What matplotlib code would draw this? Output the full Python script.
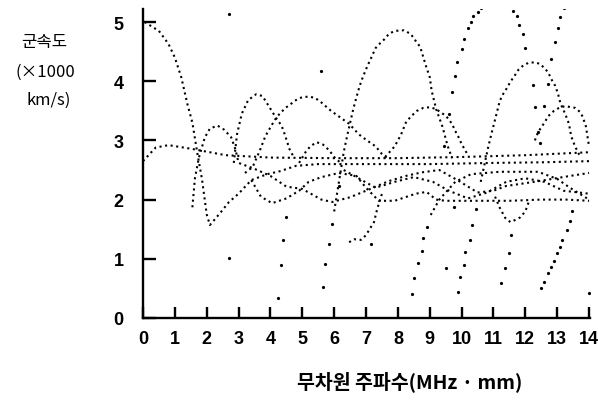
import matplotlib
matplotlib.use("Agg")
import matplotlib.pyplot as plt

# 분산 곡선 (군속도) - 점선으로 그린 모드들, 그림에서 읽은 값

# 평평한 기본 모드
flat_x = [0, 0.4, 0.8, 1.5, 2.1, 2.6, 3.3, 4, 6, 8, 10, 12, 14]
flat_y = [2.65, 2.88, 2.92, 2.86, 2.8, 2.75, 2.73, 2.71, 2.7, 2.7, 2.72, 2.75, 2.8]

# 5 에서 시작하는 모드
a_x = [0.05, 0.5, 0.8, 1.0, 1.2, 1.4, 1.55, 1.7, 1.85, 2.0, 2.1, 2.4, 2.7, 3.0, 3.4,
       3.9, 4.3, 4.8, 5.5, 7, 9, 11, 12.5, 14]
a_y = [5.0, 4.85, 4.63, 4.4, 4.07, 3.6, 3.3, 2.8, 2.35, 1.75, 1.57, 1.76, 1.96, 2.1, 2.33,
       2.43, 2.48, 2.57, 2.6, 2.6, 2.6, 2.62, 2.63, 2.65]

# 3.2 근처 봉우리 모드
b_x = [1.55, 1.63, 1.75, 1.94, 2.1, 2.34, 2.55, 2.77, 2.9, 3.0, 3.5, 4.0, 4.5, 5.0, 5.6,
       5.94, 6.5, 7.0, 7.7, 8.25, 8.75, 9.3, 9.9, 10.5, 11.0, 11.4, 12.4, 13.4, 14]
b_y = [1.87, 2.36, 2.7, 3.05, 3.2, 3.25, 3.18, 3.05, 2.85, 2.62, 2.52, 2.4, 2.22, 2.18, 2.0,
       1.96, 2.04, 2.15, 2.31, 2.4, 2.46, 2.5, 2.32, 2.12, 2.15, 2.23, 2.31, 2.4, 2.45]

# 띠 안의 물결 모드
c_x = [3.4, 3.7, 4.05, 4.5, 4.9, 5.2, 5.6, 6.15, 6.7, 7.0, 7.4, 7.9, 8.56, 8.9, 9.2, 9.5,
       10.5, 11.5, 12.5, 13.3, 14]
c_y = [2.33, 2.05, 1.94, 2.02, 2.15, 2.3, 2.38, 2.45, 2.4, 2.2, 1.98, 1.98, 2.1, 2.13, 2.0, 1.98,
       1.98, 1.98, 2.0, 2.0, 1.98]

d_x = [9.03, 9.3, 9.8, 10.3, 11.2, 12.4, 13.0, 13.4, 14]
d_y = [1.74, 2.0, 2.3, 2.43, 2.47, 2.47, 2.35, 2.2, 2.0]

e_x = [6.3, 6.8, 7.3, 7.9, 8.5, 9.1, 9.6, 10.2, 10.8, 11.4, 12.0, 12.6, 13.2, 14]
e_y = [2.5, 2.35, 2.2, 2.3, 2.38, 2.3, 2.15, 2.02, 2.12, 2.3, 2.36, 2.3, 2.15, 2.1]

# 봉우리들
h1_x = [2.85, 2.95, 3.1, 3.3, 3.55, 3.75, 3.97, 4.2, 4.35, 4.45, 4.6, 4.75]
h1_y = [2.62, 3.1, 3.45, 3.68, 3.78, 3.75, 3.56, 3.36, 3.25, 3.1, 2.85, 2.7]

h2_x = [4.9, 5.1, 5.25, 5.45, 5.65, 5.85, 6.0, 6.2]
h2_y = [2.62, 2.8, 2.9, 2.97, 2.93, 2.83, 2.72, 2.62]

h3_x = [3.2, 3.44, 3.66, 3.84, 4.03, 4.19, 4.34, 4.5, 4.7, 4.85, 5.0, 5.2, 5.4, 5.6, 5.9,
        6.16, 6.47, 6.78, 7.03, 7.3, 7.5, 7.65]
h3_y = [2.45, 2.55, 2.82, 3.07, 3.25, 3.39, 3.48, 3.56, 3.64, 3.7, 3.73, 3.74, 3.72, 3.64, 3.5,
        3.4, 3.28, 3.1, 3.0, 2.9, 2.77, 2.7]

h4_x = [6.0, 6.3, 6.4, 6.6, 6.7, 6.8, 6.9, 7.03, 7.2, 7.3, 7.44, 7.56, 7.72, 7.9, 8.19, 8.4,
        8.56, 8.7, 8.88, 9.0, 9.06, 9.2, 9.4, 9.56, 9.7]
h4_y = [1.8, 2.8, 3.06, 3.53, 3.73, 3.92, 4.07, 4.24, 4.44, 4.56, 4.64, 4.7, 4.8, 4.85, 4.86, 4.8,
        4.68, 4.58, 4.26, 4.07, 3.84, 3.53, 3.23, 2.91, 2.7]

h5_x = [7.6, 7.9, 8.1, 8.25, 8.4, 8.6, 8.8, 9.0, 9.2, 9.35, 9.5, 9.7, 9.8, 9.9, 10.0, 10.2]
h5_y = [2.72, 2.9, 3.1, 3.3, 3.4, 3.5, 3.55, 3.56, 3.53, 3.47, 3.42, 3.28, 3.16, 3.06, 2.94, 2.75]

h6_x = [10.6, 10.84, 10.95, 11.12, 11.2, 11.3, 11.44, 11.53, 11.66, 11.78, 11.94, 12.1, 12.3,
        12.47, 12.6, 12.72, 12.8, 12.94, 13.03, 13.1, 13.25, 13.37, 13.44, 13.56, 13.7]
h6_y = [2.3, 2.9, 3.14, 3.5, 3.67, 3.78, 3.9, 3.99, 4.09, 4.19, 4.27, 4.31, 4.32,
        4.29, 4.22, 4.15, 4.05, 3.92, 3.78, 3.63, 3.45, 3.28, 3.07, 2.9, 2.75]

h7_x = [12.3, 12.4, 12.6, 12.72, 12.9, 13.06, 13.25, 13.44, 13.56, 13.72, 13.8, 13.9, 13.95, 14]
h7_y = [3.0, 3.14, 3.3, 3.41, 3.5, 3.55, 3.58, 3.56, 3.55, 3.48, 3.4, 3.24, 3.07, 2.9]

# 아래로 오목한 부분
dip1_x = [6.47, 6.63, 6.84, 7.0, 7.1, 7.25, 7.35, 7.5]
dip1_y = [1.28, 1.33, 1.32, 1.4, 1.49, 1.62, 1.84, 2.1]
dip2_x = [11.05, 11.2, 11.37, 11.53, 11.7, 11.84, 12.0, 12.1]
dip2_y = [2.05, 1.86, 1.69, 1.62, 1.66, 1.7, 1.8, 1.95]

# 드문드문 찍힌 점들 (차단 주파수 근처의 가파른 부분)
sparse_x = [4.25, 4.34, 4.38, 4.5,
            5.66, 5.7, 5.84, 5.94,
            8.44, 8.5, 8.63, 8.75, 8.78, 8.9,
            9.88, 9.94, 10.06, 10.1, 10.25, 10.34, 10.44,
            11.25, 11.37, 11.5, 11.56,
            12.5, 12.6, 12.7, 12.8, 12.9, 13.0, 13.1, 13.15, 13.3, 13.4, 13.47,
            9.45, 9.6, 9.7, 9.8, 9.85, 10.0, 10.06, 10.2, 10.3, 10.37, 10.5, 10.6,
            11.6, 11.75, 11.8, 11.94, 12.0, 12.25, 12.3, 12.4, 12.45,
            12.6, 12.7, 12.8, 12.94, 13.03, 13.1, 13.2,
            2.7, 2.7, 5.6, 9.5, 14.0, 9.75, 7.16, 6.15]
sparse_y = [0.34, 0.9, 1.32, 1.7,
            0.53, 0.91, 1.25, 1.59,
            0.4, 0.68, 0.93, 1.13, 1.35, 1.53,
            0.44, 0.69, 0.9, 1.11, 1.32, 1.57, 1.84,
            0.59, 0.84, 1.1, 1.4,
            0.5, 0.6, 0.76, 0.87, 0.97, 1.1, 1.2, 1.32, 1.49, 1.64, 1.8,
            2.9, 3.45, 3.82, 4.08, 4.33, 4.54, 4.72, 4.9, 5.0, 5.1, 5.17, 5.24,
            5.19, 5.1, 4.95, 4.8, 4.56, 3.94, 3.57, 3.14, 2.95,
            3.58, 3.95, 4.37, 4.67, 4.9, 5.08, 5.24,
            5.13, 1.01, 4.17, 0.84, 0.42, 1.87, 1.25, 2.23]

x_ticks = list(range(0, 15))
y_ticks = [0, 1, 2, 3, 4, 5]

fig = plt.figure(figsize=(5.98, 4.14), dpi=100)
ax = fig.add_axes([143/598, 95/414, 447/598, 309/414])

curves = [(flat_x, flat_y), (a_x, a_y), (b_x, b_y), (c_x, c_y), (d_x, d_y), (e_x, e_y),
          (h1_x, h1_y), (h2_x, h2_y), (h3_x, h3_y), (h4_x, h4_y), (h5_x, h5_y),
          (h6_x, h6_y), (h7_x, h7_y), (dip1_x, dip1_y), (dip2_x, dip2_y)]
for cx, cy in curves:
    ax.plot(cx, cy, color='black', lw=1.5, linestyle=(0, (1, 1.7)))

ax.plot(sparse_x, sparse_y, 'o', color='black', ms=2.3, mew=0)

ax.set_xlim(0, 14.03)
ax.set_ylim(0, 5.22)
ax.set_xticks(x_ticks)
ax.set_yticks(y_ticks)
ax.set_xticklabels([str(t) for t in x_ticks])
ax.set_yticklabels([str(t) for t in y_ticks])

for s in ['top', 'right']:
    ax.spines[s].set_visible(False)
for s in ['left', 'bottom']:
    ax.spines[s].set_linewidth(1.7)

ax.tick_params(axis='y', direction='in', length=9, width=1.7, pad=14, labelsize=13)
ax.tick_params(axis='x', direction='in', length=8, width=1.7, pad=9, labelsize=13)
for lab in ax.get_xticklabels() + ax.get_yticklabels():
    lab.set_fontfamily('Liberation Sans')
    lab.set_fontweight('bold')

kr = ['Noto Sans CJK KR', 'DejaVu Sans']
fig.text(44/598, 1 - 43/414, '군속도', family=kr, fontsize=12, ha='center', va='center',
         weight='medium')
fig.text(45/598, 1 - 72/414, '(×1000', family=kr, fontsize=12, ha='center', va='center',
         weight='medium')
fig.text(49/598, 1 - 100/414, 'km/s)', family=kr, fontsize=12, ha='center', va='center',
         weight='medium')
fig.text(410/598, 1 - 382/414, '무차원 주파수(MHz · mm)', family=kr, fontsize=14,
         ha='center', va='center', weight='bold')

fig.savefig('out.png', dpi=100)
